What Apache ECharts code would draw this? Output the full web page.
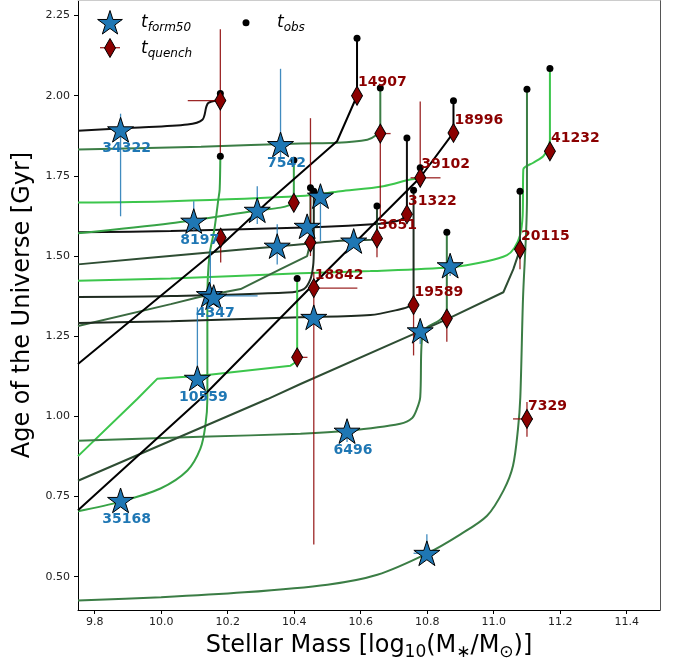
<!DOCTYPE html>
<html><head><meta charset="utf-8">
<script src="https://cdn.jsdelivr.net/npm/echarts@6/dist/echarts.min.js"></script>
<style>html,body{margin:0;padding:0;background:#fff}#c{width:680px;height:666px}</style>
</head><body><div id="c"></div>
<script>
// ---------- data ----------
const xTicks = [9.8, 10.0, 10.2, 10.4, 10.6, 10.8, 11.0, 11.2, 11.4];
const yTicks = [0.5, 0.75, 1.0, 1.25, 1.5, 1.75, 2.0, 2.25];

// evolutionary tracks [log M*, age]
const trackA = [[9.75,1.891],[9.917,1.900],[10.079,1.910],[10.124,1.925],[10.136,1.966],[10.142,1.978],[10.165,1.985],[10.178,1.986],[10.178,2.007]];
const trackB = [[9.75,1.832],[10.12,1.841],[10.42,1.851],[10.53,1.853],[10.62,1.863],[10.645,1.876],[10.655,1.892],[10.659,1.91],[10.659,2.024]];
const trackC = [[9.75,1.667],[10.029,1.671],[10.419,1.687],[10.539,1.702],[10.668,1.718],[10.749,1.739],[10.779,1.744],[10.779,1.775]];
const trackD = [[9.75,1.574],[10.029,1.578],[10.458,1.590],[10.659,1.601],[10.709,1.609],[10.727,1.618],[10.739,1.632],[10.739,1.868]];
const trackE = [[9.75,1.571],[10.029,1.602],[10.29,1.642],[10.359,1.651],[10.384,1.658],[10.397,1.668],[10.399,1.708],[10.399,1.799]];
const trackF = [[9.75,0.704],[9.878,0.734],[9.998,0.775],[10.079,0.831],[10.118,0.899],[10.133,0.971],[10.139,1.054],[10.139,1.365],[10.145,1.50],[10.16,1.583],[10.172,1.677],[10.176,1.708],[10.178,1.811]];
const trackG = [[9.75,1.474],[10.118,1.509],[10.35,1.53],[10.539,1.548],[10.649,1.555],[10.649,1.656]];
const trackH = [[9.75,1.423],[10.029,1.43],[10.419,1.446],[10.629,1.453],[10.869,1.465],[10.98,1.484],[11.04,1.503],[11.062,1.525],[11.079,1.564],[11.087,1.626],[11.089,1.77],[11.119,1.791],[11.149,1.811],[11.164,1.837],[11.169,1.863],[11.169,2.085]];
const trackI = [[9.75,1.372],[10.029,1.375],[10.379,1.386],[10.429,1.397],[10.449,1.428],[10.457,1.469],[10.459,1.52],[10.459,1.702]];
const trackJ = [[9.75,1.282],[10.029,1.35],[10.118,1.373],[10.239,1.397],[10.359,1.459],[10.439,1.50],[10.449,1.542],[10.449,1.713]];
const trackK = [[9.75,1.291],[10.029,1.297],[10.419,1.309],[10.629,1.316],[10.719,1.334],[10.745,1.343],[10.759,1.36],[10.759,1.705]];
const trackL = [[9.75,1.163],[10.158,1.512],[10.319,1.667],[10.529,1.858],[10.589,2.0],[10.589,2.179]];
const trackM = [[9.75,0.876],[9.928,1.054],[9.988,1.117],[10.118,1.127],[10.389,1.158],[10.403,1.168],[10.409,1.19],[10.409,1.43]];
const trackN = [[9.75,0.924],[10.118,0.936],[10.419,0.946],[10.56,0.955],[10.719,0.977],[10.755,0.995],[10.769,1.023],[10.779,1.06],[10.782,1.2],[10.786,1.25],[10.80,1.278],[10.83,1.295],[10.85,1.312],[10.859,1.335],[10.859,1.574]];
const trackO = [[9.75,0.799],[10.32,1.054],[10.419,1.101],[10.779,1.266],[10.86,1.303],[11.029,1.387],[11.059,1.459],[11.079,1.521],[11.079,1.702]];
const trackP = [[9.75,0.707],[10.118,1.054],[10.509,1.465],[10.779,1.745],[10.879,1.885],[10.879,1.984]];
const trackQ = [[9.75,0.426],[10.0,0.436],[10.25,0.451],[10.5,0.475],[10.65,0.506],[10.799,0.572],[10.9,0.632],[10.98,0.69],[11.03,0.77],[11.058,0.846],[11.073,0.961],[11.08,1.06],[11.088,1.365],[11.10,1.677],[11.10,2.02]];

// t_form50 stars
const starIds  = ['34322','7542','','8197','','','','','4347','','','10559','6496','35168','','',''];
const starMass = [9.878,10.359,10.289,10.098,10.349,10.439,10.479,10.579,10.145,10.158,10.459,10.109,10.559,9.878,10.779,10.869,10.799];
const starAge  = [1.894,1.848,1.643,1.609,1.531,1.593,1.687,1.547,1.380,1.372,1.309,1.119,0.954,0.738,1.267,1.470,0.573];

// t_quench diamonds
const quenchIds  = ['','14907','','18996','41232','39102','','31322','','','3651','20115','18842','19589','','','7329'];
const quenchMass = [10.178,10.589,10.659,10.879,11.169,10.779,10.399,10.739,10.179,10.449,10.649,11.079,10.459,10.759,10.859,10.409,11.10];
const quenchAge  = [1.985,2.0,1.882,1.884,1.827,1.744,1.666,1.63,1.557,1.542,1.555,1.521,1.40,1.347,1.305,1.184,0.992];

// t_obs dots
const obsMass = [10.178,10.178,10.589,10.659,10.879,11.169,11.10,10.739,10.779,11.079,10.399,10.449,10.459,10.759,10.649,10.859,10.409];
const obsAge  = [2.007,1.811,2.179,2.024,1.984,2.085,2.02,1.868,1.775,1.702,1.799,1.713,1.702,1.705,1.656,1.574,1.43];

// error bars: vertical [x, lo, hi], horizontal [y, lo, hi]
const starErrV = [[9.878,1.624,1.944],[10.359,1.80,2.084],[10.289,1.60,1.718],[10.098,1.58,1.671],[10.349,1.474,1.599],[10.479,1.547,1.718],[10.579,1.525,1.55],[10.148,1.365,1.52],[10.109,1.119,1.34],[10.559,0.92,0.954],[10.779,1.226,1.267],[10.869,1.438,1.47],[10.799,0.573,0.632]];
const starErrH = [[1.376,10.16,10.29],[0.573,10.759,10.799]];
const quenchErrV = [[10.178,1.81,2.207],[10.659,1.614,1.882],[10.779,1.744,1.982],[10.449,1.50,1.93],[10.179,1.48,1.587],[10.649,1.496,1.555],[11.079,1.459,1.521],[10.459,0.60,1.45],[10.759,1.19,1.347],[10.859,1.233,1.305],[11.10,0.936,1.045]];
const quenchErrH = [[1.985,10.08,10.178],[1.882,10.659,10.69],[1.744,10.75,10.84],[1.40,10.459,10.59],[1.184,10.409,10.44],[0.992,11.058,11.118],[1.542,10.43,10.449]];

// ---------- styles ----------
const BLACK = '#111111', NEARBLK = '#1f2b20', DKGREEN = '#2e4d33', MDGREEN = '#3b7d45', GREEN = '#37a346', BRGREEN = '#3cc64c';
// [track, colour, smoothing]
const trackList = [
  [trackA, BLACK, 0.3],[trackB, MDGREEN, 0.3],[trackC, BRGREEN, 0.3],[trackD, BLACK, 0.3],[trackE, GREEN, 0.3],[trackF, GREEN, 0.3],
  [trackG, DKGREEN, 0.3],[trackH, BRGREEN, 0.3],[trackI, NEARBLK, 0.3],[trackJ, '#3a6a40', 0],[trackK, NEARBLK, 0.3],[trackL, '#000', 0],
  [trackM, BRGREEN, 0],[trackN, MDGREEN, 0.3],[trackO, DKGREEN, 0],[trackP, '#000', 0],[trackQ, MDGREEN, 0.3]
];
const STAR = 'path://M50,0 L61.23,34.55 L97.55,34.55 L68.17,55.9 L79.39,90.45 L50,69.1 L20.61,90.45 L31.83,55.9 L2.45,34.55 L38.77,34.55 Z';
const BLUE = '#1f77b4', DRED = '#8b0000';

function starPoints(cx, cy, R) {
  const pts = [];
  for (let k = 0; k < 10; k++) {
    const r = k % 2 === 0 ? R : R * 0.382;
    const a = (-90 + k * 36) * Math.PI / 180;
    pts.push([cx + r * Math.cos(a), cy + r * Math.sin(a)]);
  }
  return pts;
}

function segSeries(segs, color, width, z) {
  return {
    type: 'custom', coordinateSystem: 'cartesian2d', z: z, silent: true,
    data: segs, encode: {x: [0, 2], y: [1, 3]},
    renderItem: function (params, api) {
      const p1 = api.coord([api.value(0), api.value(1)]);
      const p2 = api.coord([api.value(2), api.value(3)]);
      return {type: 'line', shape: {x1: p1[0], y1: p1[1], x2: p2[0], y2: p2[1]},
              style: {stroke: color, lineWidth: width}};
    }
  };
}
const vSeg = a => a.map(e => [e[0], e[1], e[0], e[2]]);
const hSeg = a => a.map(e => [e[1], e[0], e[2], e[0]]);

const series = [];
trackList.forEach(t => series.push({
  type: 'line', data: t[0], showSymbol: false, symbol: 'none', silent: true, z: 1, smooth: t[2],
  lineStyle: {color: t[1], width: 2}, clip: true
}));
series.push(segSeries(vSeg(starErrV).concat(hSeg(starErrH)), 'rgba(31,119,180,0.85)', 1.3, 2));
series.push(segSeries(vSeg(quenchErrV).concat(hSeg(quenchErrH)), 'rgba(139,0,0,0.85)', 1.3, 2));
series.push({
  type: 'scatter', z: 3, silent: true, symbol: 'circle', symbolSize: 7,
  itemStyle: {color: '#000', opacity: 1},
  data: obsMass.map((m, i) => [m, obsAge[i]])
});
series.push({
  type: 'scatter', z: 4, silent: true, symbol: 'diamond', symbolSize: [11, 19],
  itemStyle: {color: DRED, borderColor: '#000', borderWidth: 1, opacity: 1},
  label: {show: true, position: 'inside', align: 'left', verticalAlign: 'middle', offset: [1, -13],
          color: DRED, fontFamily: 'DejaVu Sans', fontWeight: 'bold', fontSize: 14, opacity: 1},
  data: quenchMass.map((m, i) => ({value: [m, quenchAge[i]], label: {show: quenchIds[i] !== '', formatter: quenchIds[i]}}))
});
series.push({
  type: 'scatter', z: 5, silent: true, symbol: STAR, symbolSize: 26, symbolKeepAspect: true,
  itemStyle: {color: BLUE, borderColor: '#000', borderWidth: 1, opacity: 1},
  label: {show: true, position: 'inside', align: 'center', verticalAlign: 'middle', offset: [6, 19],
          color: '#1f77b4', fontFamily: 'DejaVu Sans', fontWeight: 'bold', fontSize: 14, opacity: 1},
  data: starMass.map((m, i) => ({value: [m, starAge[i]], label: {show: starIds[i] !== '', formatter: starIds[i]}}))
});

const FONT = 'DejaVu Sans';
const subRich = {t: {fontFamily: FONT, fontStyle: 'italic', fontSize: 17, lineHeight: 22, fill: '#000'},
                 s: {fontFamily: FONT, fontStyle: 'italic', fontSize: 12, verticalAlign: 'bottom', lineHeight: 12, fill: '#000'}};
const option = {
  animation: false,
  backgroundColor: '#fff',
  grid: {left: 78, right: 20, top: 0, bottom: 54, containLabel: false},
  xAxis: [{
    type: 'value', min: 9.75, max: 11.5, position: 'bottom',
    name: '{a|Stellar Mass [log}{s|10}{a|(M}{s|∗}{a|/M}{s|⊙}{a|)]}',
    nameLocation: 'middle', nameGap: 21,
    nameTextStyle: {rich: {
      a: {fontFamily: FONT, fontSize: 24, color: '#000', lineHeight: 30},
      s: {fontFamily: FONT, fontSize: 17, color: '#000', verticalAlign: 'bottom', lineHeight: 17}
    }},
    axisLine: {show: true, onZero: false, lineStyle: {color: '#000', width: 1}},
    axisTick: {show: true, length: 4, customValues: xTicks, lineStyle: {color: '#000'}},
    axisLabel: {customValues: xTicks, formatter: v => v.toFixed(1), fontFamily: FONT, fontSize: 11, color: '#222', margin: 7},
    splitLine: {show: false}
  }, {
    type: 'value', min: 9.75, max: 11.5, position: 'top',
    axisLine: {show: true, onZero: false, lineStyle: {color: '#cccccc'}},
    axisTick: {show: false}, axisLabel: {show: false}, splitLine: {show: false}
  }],
  yAxis: [{
    type: 'value', min: 0.396, max: 2.2986, position: 'left',
    name: 'Age of the Universe [Gyr]', nameLocation: 'middle', nameGap: 40, nameRotate: 90,
    nameTextStyle: {fontFamily: FONT, fontSize: 24, color: '#000'},
    axisLine: {show: true, onZero: false, lineStyle: {color: '#000', width: 1}},
    axisTick: {show: true, length: 4, customValues: yTicks, lineStyle: {color: '#000'}},
    axisLabel: {customValues: yTicks, formatter: v => v.toFixed(2), fontFamily: FONT, fontSize: 11, color: '#222', margin: 8},
    splitLine: {show: false}
  }, {
    type: 'value', min: 0.396, max: 2.2986, position: 'right',
    axisLine: {show: true, onZero: false, lineStyle: {color: '#555'}},
    axisTick: {show: false}, axisLabel: {show: false}, splitLine: {show: false}
  }],
  series: series,
  graphic: [
    {type: 'polygon', shape: {points: starPoints(110, 23.5, 13)},
     style: {fill: BLUE, stroke: '#000', lineWidth: 1}, z: 10},
    {type: 'line', shape: {x1: 100, y1: 47.7, x2: 120, y2: 47.7}, style: {stroke: 'rgba(139,0,0,0.85)', lineWidth: 1.3}, z: 10},
    {type: 'polygon', shape: {points: [[110, 38.5], [115.5, 48], [110, 57.5], [104.5, 48]]},
     style: {fill: DRED, stroke: '#000', lineWidth: 1}, z: 11},
    {type: 'circle', shape: {cx: 246, cy: 22.7, r: 3.5}, style: {fill: '#000'}, z: 10},
    {type: 'text', x: 141, y: 23, z: 10, style: {text: '{t|t}{s|form50}', verticalAlign: 'middle', rich: subRich}},
    {type: 'text', x: 141, y: 48.5, z: 10, style: {text: '{t|t}{s|quench}', verticalAlign: 'middle', rich: subRich}},
    {type: 'text', x: 277, y: 23, z: 10, style: {text: '{t|t}{s|obs}', verticalAlign: 'middle', rich: subRich}}
  ]
};
const chart = echarts.init(document.getElementById('c'), null, {renderer: 'canvas'});
chart.setOption(option);
</script></body></html>
